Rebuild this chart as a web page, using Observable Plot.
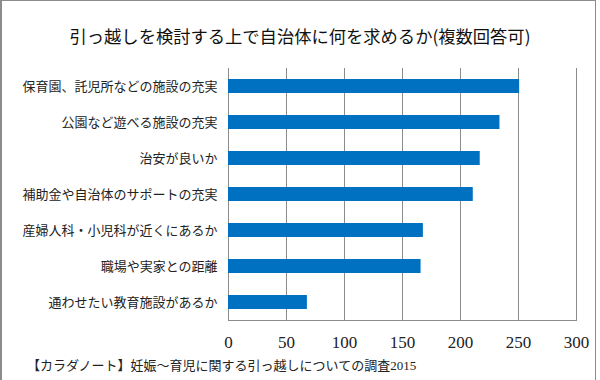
<!DOCTYPE html>
<html><head><meta charset="utf-8">
<script src="https://cdn.jsdelivr.net/npm/d3@7"></script>
<script src="https://cdn.jsdelivr.net/npm/@observablehq/plot@0.6"></script>
<style>
body{margin:0;background:#fff;}
#wrap{position:relative;width:600px;height:380px;overflow:hidden;background:#fff;}
#frame{position:absolute;left:0;top:0;width:596px;height:384px;box-sizing:border-box;border:1px solid #8c8c8c;border-left-width:2px;pointer-events:none;}
#title{position:absolute;left:0;top:25px;width:600px;text-align:center;font:17.3px/22px "Noto Sans CJK JP",sans-serif;color:#111;white-space:nowrap;}
#chart{position:absolute;left:0;top:50px;}
#caption{position:absolute;left:27px;top:358px;font:13px/15px "Liberation Serif","Noto Sans CJK JP",serif;color:#222;white-space:nowrap;}
</style></head>
<body>
<div id="wrap">
  <div id="title"></div>
  <div id="chart"></div>
  <div id="caption"></div>
  <div id="frame"></div>
</div>
<script>
const titleText = "引っ越しを検討する上で自治体に何を求めるか(複数回答可)";
const captionText = "【カラダノート】妊娠～育児に関する引っ越しについての調査2015";
const categories = [
  "保育園、託児所などの施設の充実",
  "公園など遊べる施設の充実",
  "治安が良いか",
  "補助金や自治体のサポートの充実",
  "産婦人科・小児科が近くにあるか",
  "職場や実家との距離",
  "通わせたい教育施設があるか"
];
const values = [251, 234, 217, 211, 168, 166, 68];
const xTicks = [0, 50, 100, 150, 200, 250, 300];

document.getElementById("title").textContent = titleText;
document.getElementById("caption").textContent = captionText;

const data = categories.map((c, i) => ({category: c, value: values[i]}));

const chart = Plot.plot({
  width: 600,
  height: 305,
  marginTop: 18,
  marginBottom: 35,
  marginLeft: 228,
  marginRight: 24,
  style: {background: "transparent", color: "#222"},
  x: {domain: [0, 300], ticks: xTicks, label: null},
  y: {domain: categories, padding: 0, label: null},
  marks: [
    Plot.gridX(xTicks, {stroke: "#8c8c8c", strokeOpacity: 1}),
    Plot.barX(data, {x: "value", y: "category", fill: "#0070C0", insetTop: 11, insetBottom: 11}),
    Plot.frame({anchor: "bottom", stroke: "#8c8c8c"}),
    Plot.axisX(xTicks, {tickSize: 0, tickPadding: 15, fontSize: 17, fontFamily: "Liberation Serif", label: null}),
    Plot.axisY({tickSize: 0, tickPadding: 11, fontSize: 13, fontFamily: "Noto Sans CJK JP", label: null})
  ]
});
document.getElementById("chart").appendChild(chart);
</script>
</body></html>
